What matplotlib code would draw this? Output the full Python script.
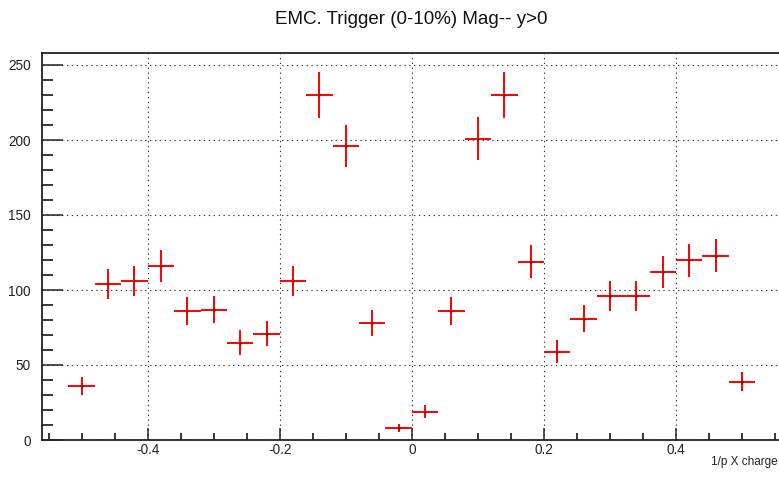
import matplotlib
matplotlib.use("Agg")
import matplotlib.pyplot as plt
from matplotlib.ticker import MultipleLocator

plt.rcParams['font.family'] = ['Liberation Sans', 'DejaVu Sans']

# bin centres (1/p X charge)
x = [-0.50, -0.46, -0.42, -0.38, -0.34, -0.30, -0.26, -0.22, -0.18, -0.14,
     -0.10, -0.06, -0.02, 0.02, 0.06, 0.10, 0.14, 0.18, 0.22, 0.26,
     0.30, 0.34, 0.38, 0.42, 0.46, 0.50]
# counts
y = [36, 104, 106, 116, 86, 87, 65, 71, 106, 230,
     196, 78, 8, 19, 86, 201, 230, 119, 59, 81,
     96, 96, 112, 120, 123, 39]
# vertical errors
yerr = [6.0, 10.2, 10.3, 10.8, 9.3, 9.3, 8.1, 8.4, 10.3, 15.2,
        14.0, 8.8, 2.8, 4.4, 9.3, 14.2, 15.2, 10.9, 7.7, 9.0,
        9.8, 9.8, 10.6, 11.0, 11.1, 6.2]
# horizontal half bin width
xerr = [0.02] * len(x)

title = "EMC. Trigger (0-10%) Mag-- y>0"
xlabel = "1/p X charge"

fig = plt.figure(figsize=(7.79, 4.80), dpi=100)
ax = fig.add_axes([42/779, 1-440/480, (781.7-42)/779, (440-53.3)/480])

ax.errorbar(x, y, yerr=yerr, xerr=xerr, fmt='none', ecolor='#ff0000',
            elinewidth=1.4, capsize=0, zorder=3)
ax.plot(x, y, linestyle='none', marker='s', markersize=1.2, color='black',
        markeredgewidth=0, zorder=4)

ax.set_xlim(-0.56, 0.56)
ax.set_ylim(0, 257.8)

ax.xaxis.set_major_locator(MultipleLocator(0.2))
ax.xaxis.set_minor_locator(MultipleLocator(0.05))
ax.yaxis.set_major_locator(MultipleLocator(50))
ax.yaxis.set_minor_locator(MultipleLocator(10))

ax.set_xticks([-0.4, -0.2, 0, 0.2, 0.4])
ax.set_xticklabels(['-0.4', '-0.2', '0', '0.2', '0.4'])

ax.tick_params(axis='y', which='major', direction='in', length=15, width=1.1,
               labelsize=9.8, pad=8, colors='#222222')
ax.tick_params(axis='y', which='minor', direction='in', length=8, width=1.1)
ax.tick_params(axis='x', which='major', direction='in', length=8.4, width=1.1,
               labelsize=9.8, pad=2, colors='#222222')
ax.tick_params(axis='x', which='minor', direction='in', length=4.8, width=1.1)

ax.grid(True, which='major', color='#333333', linestyle=(0, (1.2, 3.2)),
        linewidth=0.8)
ax.set_axisbelow(True)

for s in ['left', 'bottom', 'top']:
    ax.spines[s].set_linewidth(1.3)
    ax.spines[s].set_color('#222222')
ax.spines['right'].set_visible(False)

fig.text(411.7/779, 1-20/480, title, ha='center', va='center', fontsize=13.5,
         color='#111111')
fig.text(778/779, 1-462/480, xlabel, ha='right', va='center', fontsize=8.5,
         color='#222222')

fig.savefig('out.png', dpi=100)
